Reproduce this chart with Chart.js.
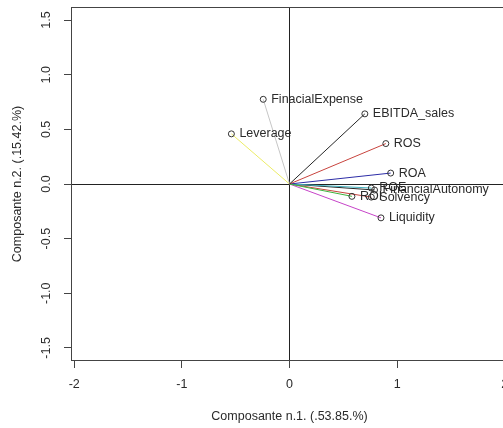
<!DOCTYPE html>
<html>
<head>
<meta charset="utf-8">
<script src="https://cdn.jsdelivr.net/npm/chart.js@4/dist/chart.umd.min.js"></script>
<style>
  html, body { margin: 0; padding: 0; background: #fff; overflow: hidden; }
  #wrap { width: 520px; height: 428px; }
</style>
</head>
<body>
<div id="wrap"><canvas id="c" width="520" height="428"></canvas></div>
<script>
// Correlation circle: loadings of each ratio on the first two components
const variables = ['EBITDA_sales', 'ROS', 'ROI', 'ROA', 'ROE', 'Liquidity', 'Leverage', 'FinacialExpense', 'FinancialAutonomy', 'Solvency'];
const comp1 = [0.70, 0.895, 0.58, 0.94, 0.76, 0.85, -0.54, -0.244, 0.79, 0.76];
const comp2 = [0.642, 0.37, -0.113, 0.10, -0.037, -0.31, 0.459, 0.775, -0.055, -0.12];
const lineColors = ['#262626', '#c8443e', '#3fb43f', '#2c2ca6', '#3fb0bd', '#c644c8', '#ecec66', '#c6c6c6', '#262626', '#c8443e'];
const xTicks = [-2, -1, 0, 1, 2];
const yTicks = [-1.5, -1.0, -0.5, 0.0, 0.5, 1.0, 1.5];
const xTitle = 'Composante n.1. (.53.85.%)';
const yTitle = 'Composante n.2. (.15.42.%)';

const FONT = '12.5px "Liberation Sans", Arial, sans-serif';
const INK = '#2a2a2a';

const datasets = variables.map((name, i) => ({
  label: name,
  data: [{ x: 0, y: 0 }, { x: comp1[i], y: comp2[i] }],
  showLine: true,
  borderColor: lineColors[i],
  borderWidth: 1,
  pointRadius: [0, 3],
  pointBorderColor: '#333',
  pointBackgroundColor: 'rgba(0,0,0,0)',
  pointBorderWidth: 1,
  pointStyle: 'circle'
}));

const frame = {
  id: 'frame',
  afterDraw(chart) {
    const { ctx, chartArea: a, scales } = chart;
    const xs = scales.x, ys = scales.y;
    ctx.save();
    // plot box
    ctx.strokeStyle = '#444';
    ctx.lineWidth = 1;
    ctx.strokeRect(a.left + 0.5, a.top + 0.5, a.right - a.left - 1, a.bottom - a.top - 1);

    ctx.fillStyle = INK;
    ctx.font = FONT;
    // x tick labels
    ctx.textAlign = 'center';
    ctx.textBaseline = 'middle';
    xs.ticks.forEach(t => {
      ctx.fillText(String(t.value), xs.getPixelForValue(t.value), a.bottom + 24);
    });
    // y tick labels (rotated)
    ys.ticks.forEach(t => {
      ctx.save();
      ctx.translate(47, ys.getPixelForValue(t.value));
      ctx.rotate(-Math.PI / 2);
      ctx.fillText(t.value.toFixed(1), 0, 0);
      ctx.restore();
    });
    // axis titles
    ctx.fillText(xTitle, (a.left + a.right) / 2, a.bottom + 56);
    ctx.save();
    ctx.translate(18, (a.top + a.bottom) / 2);
    ctx.rotate(-Math.PI / 2);
    ctx.fillText(yTitle, 0, 0);
    ctx.restore();

    // variable names to the right of each arrow tip
    ctx.textAlign = 'left';
    chart.data.datasets.forEach((ds, i) => {
      const p = ds.data[1];
      ctx.fillText(ds.label, xs.getPixelForValue(p.x) + 8, ys.getPixelForValue(p.y));
    });
    ctx.restore();
  }
};

const zeroLine = c => (c.tick && c.tick.value === 0) ? '#222' : 'rgba(0,0,0,0)';

new Chart(document.getElementById('c'), {
  type: 'scatter',
  data: { datasets },
  options: {
    responsive: false,
    animation: false,
    layout: { padding: { top: 7, right: 12, left: 0, bottom: 0 } },
    plugins: { legend: { display: false }, tooltip: { enabled: false } },
    scales: {
      x: {
        type: 'linear',
        min: -2.03,
        max: 2.03,
        afterBuildTicks: s => { s.ticks = xTicks.map(v => ({ value: v })); },
        afterFit: s => { s.height = 67; },
        ticks: { display: false },
        border: { display: false },
        grid: { color: zeroLine, tickColor: '#444', drawTicks: true, tickLength: 7, lineWidth: 1 }
      },
      y: {
        type: 'linear',
        min: -1.62,
        max: 1.62,
        afterBuildTicks: s => { s.ticks = yTicks.map(v => ({ value: v })); },
        afterFit: s => { s.width = 71; },
        ticks: { display: false },
        border: { display: false },
        grid: { color: zeroLine, tickColor: '#444', drawTicks: true, tickLength: 7, lineWidth: 1 }
      }
    }
  },
  plugins: [frame]
});
</script>
</body>
</html>
